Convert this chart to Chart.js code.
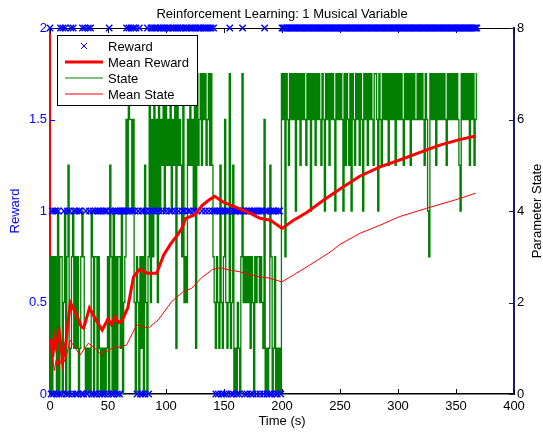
<!DOCTYPE html>
<html>
<head>
<meta charset="utf-8">
<script src="https://cdn.jsdelivr.net/npm/chart.js@4.4.1/dist/chart.umd.min.js"></script>
<style>
  html, body { margin: 0; padding: 0; background: #fff; }
  #wrap { width: 543px; height: 434px; }
</style>
</head>
<body>
<div id="wrap"><canvas id="chart" width="543" height="434"></canvas></div>
<script>
// Text
const chartTitle = 'Reinforcement Learning: 1 Musical Variable';
const xTitle = 'Time (s)';
const leftTitle = 'Reward';
const rightTitle = 'Parameter State';

// Axis ticks
const xTicks = [0, 50, 100, 150, 200, 250, 300, 350, 400];
const rewardTicks = [0, 0.5, 1, 1.5, 2];
const stateTicks = [0, 2, 4, 6, 8];

// One sample per second, t = 0 .. 368, ten samples per chunk
const stateSamples = [
    '0303130403', '3024035013', '4131301343', '1010104303', '3031010101',
    '3053040303', '3140236476', '6462032031', '3052037263', '7462746574',
    '7565746571', '7565372326', '5756471756', '7576756757', '5321321521',
    '3621271250', '1021037232', '3231320323', '3232160101', '5301301010',
    '7673765767', '6747675767', '6576747675', '7676576476', '7576764767',
    '6764757657', '4765767576', '4767576765', '7764765767', '6757676757',
    '6767657676', '7576766767', '6765764376', '7675767676', '7657676767',
    '6765476767', '675767567'
].join('');

const rewardSamples = [
    '2010110102', '0212010120', '2101011020', '2102120101', '0110101011',
    '0210101101', '0111112121', '2121201201', '0101201221', '2212122122',
    '1221212212', '2122121221', '2122122122', '2122122122', '1210101101',
    '0101120101', '1010112101', '0110101101', '1011021010', '1011010110',
    '2222222222', '2222222222', '2222222222', '2222222222', '2222222222',
    '2222222222', '2222222222', '2222222222', '2222222222', '2222222222',
    '2222222222', '2222222222', '2222222222', '2222222222', '2222222222',
    '2222222222', '222222222'
].join('');

// Running means
const meanRewardTime = [1, 2.3, 4, 5.2, 8, 10.9, 13.8, 17.5, 22.4, 26.7,
    29, 34, 40, 45, 50, 53, 56, 59, 62, 67,
    72, 77, 84, 87, 92, 98, 104, 110, 114, 117,
    125, 131, 137, 142, 149, 157, 164, 172, 181, 190,
    200, 210, 221, 236, 250, 267, 284, 302, 319, 336,
    353, 367];
const meanReward = [0.30, 0.20, 0.30, 0.26, 0.34, 0.18, 0.29, 0.50, 0.44, 0.37,
    0.36, 0.47, 0.40, 0.35, 0.41, 0.38, 0.42, 0.39, 0.40, 0.47,
    0.64, 0.68, 0.66, 0.66, 0.66, 0.76, 0.82, 0.87, 0.91, 0.96,
    0.98, 1.03, 1.06, 1.08, 1.05, 1.03, 1.01, 0.99, 0.96, 0.95,
    0.905, 0.95, 0.99, 1.06, 1.12, 1.19, 1.24, 1.28, 1.32, 1.36,
    1.39, 1.41];

const meanStateTime = [1, 2.3, 3.7, 5.2, 6.6, 8, 9.5, 11.5, 14.4, 17.2,
    20, 25.9, 33, 38.8, 44.5, 47.4, 50.3, 53.2, 60, 66,
    74.7, 84.8, 93.4, 104.9, 115, 122.1, 131, 140, 146.6, 155,
    163.8, 172.4, 181, 189.7, 199.7, 209.8, 224, 241.4, 250, 267,
    284.5, 301.7, 324.7, 349, 367];
const meanState = [0.44, 0.80, 0.51, 0.73, 0.58, 0.80, 0.66, 0.67, 0.85, 1.18,
    1.07, 0.85, 1.11, 1.0, 0.85, 0.96, 0.93, 1.0, 1.03, 1.07,
    1.51, 1.44, 1.62, 2.02, 2.24, 2.31, 2.55, 2.72, 2.76, 2.71,
    2.67, 2.60, 2.56, 2.53, 2.45, 2.60, 2.82, 3.10, 3.27, 3.51,
    3.69, 3.88, 4.06, 4.24, 4.39];

// Colours
const BLUE = '#0000ff';
const RED = '#ff0000';
const GREEN = '#008000';
const NAVY = '#1a1a78';
const FONT = "'Liberation Sans', Arial, Helvetica, sans-serif";

const toPoints = (xs, ys) => xs.map((x, i) => ({ x, y: ys[i] }));
const stateData = stateSamples.split('').map((d, i) => ({ x: i, y: Number(d) }));
const rewardData = rewardSamples.split('').map((d, i) => ({ x: i, y: Number(d) }));

Chart.defaults.font.family = FONT;
Chart.defaults.font.size = 13;
Chart.defaults.color = '#000';

// axis box + inward MATLAB-style ticks, under the data
const frame = {
    id: 'frame',
    beforeDatasetsDraw(chart) {
        const { ctx, chartArea: a, scales: { x, y, y2 } } = chart;
        const len = 5;
        ctx.save();
        ctx.lineWidth = 1;
        ctx.strokeStyle = '#000';
        ctx.beginPath();
        ctx.moveTo(a.left, a.top + 0.5);
        ctx.lineTo(a.right, a.top + 0.5);
        ctx.stroke();
        xTicks.forEach(v => {
            const px = Math.round(x.getPixelForValue(v)) + 0.5;
            ctx.beginPath();
            ctx.moveTo(px, a.bottom); ctx.lineTo(px, a.bottom - len);
            ctx.moveTo(px, a.top); ctx.lineTo(px, a.top + len);
            ctx.stroke();
        });
        ctx.strokeStyle = BLUE;
        rewardTicks.forEach(v => {
            const py = Math.round(y.getPixelForValue(v)) + 0.5;
            ctx.beginPath();
            ctx.moveTo(a.left, py); ctx.lineTo(a.left + len, py);
            ctx.stroke();
        });
        ctx.strokeStyle = NAVY;
        stateTicks.forEach(v => {
            const py = Math.round(y2.getPixelForValue(v)) + 0.5;
            ctx.beginPath();
            ctx.moveTo(a.right, py); ctx.lineTo(a.right - len, py);
            ctx.stroke();
        });
        ctx.restore();
    }
};

// boxed legend in the top-left corner of the plot
const legendBox = {
    id: 'legendBox',
    afterDatasetsDraw(chart) {
        const { ctx, chartArea: a } = chart;
        const x0 = a.left + 7, y0 = a.top + 7, w = 140, h = 70;
        ctx.save();
        ctx.fillStyle = '#fff';
        ctx.fillRect(x0, y0, w, h);
        ctx.strokeStyle = '#000';
        ctx.lineWidth = 1;
        ctx.strokeRect(x0 + 0.5, y0 + 0.5, w, h);
        chart.data.datasets.forEach((ds, i) => {
            const cy = y0 + 11 + i * 16;
            if (ds.showLine === false) {
                ctx.strokeStyle = ds.borderColor;
                ctx.lineWidth = 1;
                ctx.beginPath();
                ctx.moveTo(x0 + 24, cy - 3); ctx.lineTo(x0 + 30, cy + 3);
                ctx.moveTo(x0 + 30, cy - 3); ctx.lineTo(x0 + 24, cy + 3);
                ctx.stroke();
            } else {
                ctx.strokeStyle = ds.borderColor;
                ctx.lineWidth = ds.label === 'State' ? 1 : ds.borderWidth;
                ctx.beginPath();
                ctx.moveTo(x0 + 8, cy); ctx.lineTo(x0 + 46, cy);
                ctx.stroke();
            }
            ctx.fillStyle = '#000';
            ctx.font = '13px ' + FONT;
            ctx.textBaseline = 'middle';
            ctx.fillText(ds.label, x0 + 51, cy + 1);
        });
        ctx.restore();
    }
};

// title and axis titles
const titles = {
    id: 'titles',
    afterDraw(chart) {
        const { ctx, chartArea: a } = chart;
        const midX = (a.left + a.right) / 2, midY = (a.top + a.bottom) / 2;
        ctx.save();
        ctx.font = '13px ' + FONT;
        ctx.textAlign = 'center';
        ctx.textBaseline = 'middle';
        ctx.fillStyle = '#000';
        ctx.fillText(chartTitle, midX, 14);
        ctx.fillText(xTitle, midX, 421);
        ctx.save();
        ctx.translate(15, midY);
        ctx.rotate(-Math.PI / 2);
        ctx.fillStyle = BLUE;
        ctx.fillText(leftTitle, 0, 0);
        ctx.restore();
        ctx.translate(537, midY);
        ctx.rotate(-Math.PI / 2);
        ctx.fillStyle = '#000';
        ctx.fillText(rightTitle, 0, 0);
        ctx.restore();
    }
};

new Chart(document.getElementById('chart'), {
    type: 'line',
    data: {
        datasets: [
            {
                label: 'Reward',
                data: rewardData,
                yAxisID: 'y',
                showLine: false,
                pointStyle: 'crossRot',
                pointRadius: 4.5,
                pointBorderWidth: 1.4,
                borderColor: BLUE,
                pointBorderColor: BLUE,
                clip: false,
                order: 2
            },
            {
                label: 'Mean Reward',
                data: toPoints(meanRewardTime, meanReward),
                yAxisID: 'y',
                borderColor: RED,
                borderWidth: 3,
                pointRadius: 0,
                order: 0
            },
            {
                label: 'State',
                data: stateData,
                yAxisID: 'y2',
                borderColor: GREEN,
                borderWidth: 1.3,
                stepped: 'middle',
                pointRadius: 0,
                order: 3
            },
            {
                label: 'Mean State',
                data: toPoints(meanStateTime, meanState),
                yAxisID: 'y2',
                borderColor: RED,
                borderWidth: 1,
                pointRadius: 0,
                order: 1
            }
        ]
    },
    options: {
        responsive: false,
        animation: false,
        events: [],
        layout: { padding: { top: 28, left: 0, right: 0, bottom: 0 } },
        elements: { line: { tension: 0, fill: false } },
        plugins: {
            legend: { display: false },
            title: { display: false },
            tooltip: { enabled: false }
        },
        scales: {
            x: {
                type: 'linear',
                min: 0,
                max: 400,
                grid: { display: false, drawTicks: false },
                border: { display: true, color: '#000', width: 1.5 },
                ticks: { stepSize: 50, padding: 5, color: '#000', maxRotation: 0 },
                afterFit(s) { s.height = 40; }
            },
            y: {
                type: 'linear',
                position: 'left',
                min: 0,
                max: 2,
                grid: { display: false, drawTicks: false },
                border: { display: true, color: RED, width: 2 },
                ticks: { stepSize: 0.5, padding: 3, color: BLUE, callback: v => String(v) },
                afterFit(s) { s.width = 50; }
            },
            y2: {
                type: 'linear',
                position: 'right',
                min: 0,
                max: 8,
                grid: { display: false, drawTicks: false },
                border: { display: true, color: NAVY, width: 2 },
                ticks: { stepSize: 2, padding: 3, color: '#000', callback: v => String(v) },
                afterFit(s) { s.width = 29; }
            }
        }
    },
    plugins: [frame, legendBox, titles]
});
</script>
</body>
</html>
